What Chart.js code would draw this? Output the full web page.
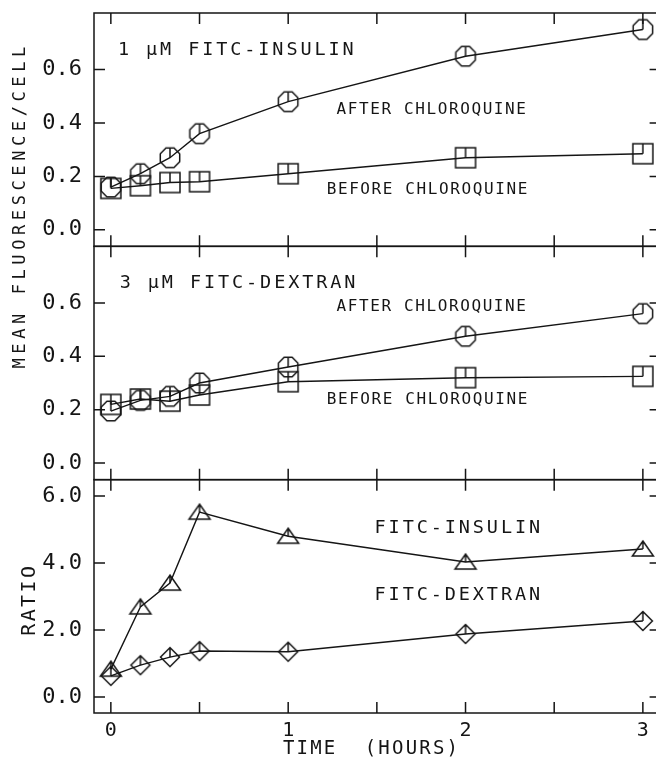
<!DOCTYPE html>
<html lang="en">
<head>
<meta charset="UTF-8">
<title>FITC uptake and chloroquine</title>
<script src="https://cdn.jsdelivr.net/npm/chart.js"></script>
<style>
  html, body { margin: 0; padding: 0; background: #fff; overflow: hidden; }
  canvas { display: block; }
</style>
</head>
<body>
<!-- wider than the window: the right frame of the plot runs just past the edge -->
<canvas id="uptake" width="672" height="758"></canvas>
<script>
// sampling times in hours (0, 10, 20, 30 min, 1, 2, 3 h)
const hours = [0, 1/6, 1/3, 0.5, 1, 2, 3];

// 1 uM FITC-insulin, mean fluorescence per cell
const insulinAfter  = [0.16, 0.21, 0.27, 0.36, 0.48, 0.65, 0.75];
const insulinBefore = [0.155, 0.165, 0.177, 0.18, 0.21, 0.27, 0.285];

// 3 uM FITC-dextran
const dextranAfter  = [0.195, 0.235, 0.25, 0.30, 0.36, 0.475, 0.56];
const dextranBefore = [0.22, 0.24, 0.232, 0.255, 0.305, 0.32, 0.325];

// after / before ratio
const ratioInsulin = [0.83, 2.69, 3.40, 5.52, 4.80, 4.03, 4.42];
const ratioDextran = [0.63, 0.95, 1.19, 1.37, 1.35, 1.88, 2.27];

const timeTicks  = [0, 0.5, 1, 1.5, 2, 2.5, 3];
const fluorTicks = [0, 0.1, 0.2, 0.3, 0.4, 0.5, 0.6, 0.7];
const ratioTicks = [0, 1, 2, 3, 4, 5, 6];

const INK = '#151515';
const MONO = "'DejaVu Sans Mono', 'Liberation Mono', monospace";
const TICK = 11;

// plotter style symbols: open outline plus a stroke from the top to the centre
function marker(shape) {
  const c = document.createElement('canvas');
  c.width = c.height = 26;
  const g = c.getContext('2d');
  const m = 13;
  let top;
  g.strokeStyle = INK;
  g.lineWidth = 1.5;
  g.beginPath();
  if (shape === 'circle') {
    const r = 10.5;
    for (let i = 0; i < 8; i++) {
      const a = Math.PI / 8 + i * Math.PI / 4;
      const px = m + r * Math.cos(a), py = m + r * Math.sin(a);
      if (i) g.lineTo(px, py); else g.moveTo(px, py);
    }
    g.closePath();
    top = m - r * Math.cos(Math.PI / 8);
  } else if (shape === 'square') {
    g.rect(m - 10, m - 10, 20, 20);
    top = m - 10;
  } else if (shape === 'triangle') {
    g.moveTo(m, m - 8);
    g.lineTo(m + 10.5, m + 7);
    g.lineTo(m - 10.5, m + 7);
    g.closePath();
    top = m - 8;
  } else {
    g.moveTo(m, m - 9.5);
    g.lineTo(m + 9.5, m);
    g.lineTo(m, m + 9.5);
    g.lineTo(m - 9.5, m);
    g.closePath();
    top = m - 9.5;
  }
  g.moveTo(m, top);
  g.lineTo(m, m);
  g.stroke();
  return c;
}

function series(label, values, axis, shape) {
  return {
    label,
    data: hours.map((h, i) => ({ x: h, y: values[i] })),
    yAxisID: axis,
    borderColor: INK,
    borderWidth: 1.4,
    backgroundColor: 'transparent',
    pointStyle: marker(shape),
    pointRadius: 10,
    tension: 0,
    fill: false
  };
}

// fixed gutter sizes, no extra label padding around the plot
function fixLeft(s) {
  s.width = 94;
  s.paddingTop = s.paddingBottom = 0;
}

function fixBottom(s) {
  s.height = 45;
  s.paddingLeft = s.paddingRight = 0;
}

function fluorAxis() {
  return {
    type: 'linear',
    position: 'left',
    stack: 'panels',
    stackWeight: 1,
    min: -0.062,
    max: 0.812,
    afterBuildTicks: s => { s.ticks = fluorTicks.map(v => ({ value: v })); },
    afterFit: fixLeft,
    ticks: {
      padding: 12,
      color: INK,
      font: { family: MONO, size: 22 },
      callback: v => (Math.round(v * 10) % 2 === 0 && v < 0.65) ? v.toFixed(1) : ''
    },
    grid: { display: false, drawTicks: false },
    border: { display: false }
  };
}

// frames, inward ticks on all four sides of each panel
const panelFrames = {
  id: 'panelFrames',
  beforeDatasetsDraw(chart) {
    const { ctx, chartArea: { left, right }, scales } = chart;
    const x = scales.x;
    ctx.save();
    ctx.strokeStyle = INK;
    ctx.lineWidth = 1.5;
    for (const id of ['yIns', 'yDex', 'yRat']) {
      const y = scales[id];
      ctx.strokeRect(left, y.top, right - left, y.bottom - y.top);
      ctx.beginPath();
      y.ticks.forEach(t => {
        const py = y.getPixelForValue(t.value);
        ctx.moveTo(left, py); ctx.lineTo(left + TICK, py);
        ctx.moveTo(right - TICK, py); ctx.lineTo(right, py);
      });
      x.ticks.forEach(t => {
        const px = x.getPixelForValue(t.value);
        ctx.moveTo(px, y.top); ctx.lineTo(px, y.top + TICK);
        ctx.moveTo(px, y.bottom - TICK); ctx.lineTo(px, y.bottom);
      });
      ctx.stroke();
    }
    ctx.restore();
  }
};

// in-panel labels, placed in data units of each panel
const notes = [
  { text: '1 \u00b5M FITC-INSULIN', axis: 'yIns', x: 0.04, y: 0.674, size: 18.5, spacing: 2.9 },
  { text: 'AFTER CHLOROQUINE', axis: 'yIns', x: 1.273, y: 0.449, size: 16, spacing: 1.6 },
  { text: 'BEFORE CHLOROQUINE', axis: 'yIns', x: 1.217, y: 0.150, size: 16, spacing: 1.6 },
  { text: '3 \u00b5M FITC-DEXTRAN', axis: 'yDex', x: 0.05, y: 0.674, size: 18.5, spacing: 2.9 },
  { text: 'AFTER CHLOROQUINE', axis: 'yDex', x: 1.273, y: 0.584, size: 16, spacing: 1.6 },
  { text: 'BEFORE CHLOROQUINE', axis: 'yDex', x: 1.217, y: 0.236, size: 16, spacing: 1.6 },
  { text: 'FITC-INSULIN', axis: 'yRat', x: 1.487, y: 5.04, size: 18.5, spacing: 2.9 },
  { text: 'FITC-DEXTRAN', axis: 'yRat', x: 1.487, y: 3.04, size: 18.5, spacing: 2.9 }
];

const panelText = {
  id: 'panelText',
  afterDraw(chart) {
    const { ctx, scales } = chart;
    const x = scales.x;
    ctx.save();
    ctx.fillStyle = INK;
    ctx.textBaseline = 'middle';
    ctx.textAlign = 'left';
    notes.forEach(n => {
      ctx.font = n.size + 'px ' + MONO;
      ctx.letterSpacing = n.spacing + 'px';
      ctx.fillText(n.text, x.getPixelForValue(n.x), scales[n.axis].getPixelForValue(n.y));
    });

    // hour labels under the bottom panel
    ctx.textAlign = 'center';
    ctx.textBaseline = 'alphabetic';
    ctx.font = '20px ' + MONO;
    ctx.letterSpacing = '0px';
    x.ticks.forEach(t => {
      if (Number.isInteger(t.value)) ctx.fillText(String(t.value), x.getPixelForValue(t.value), x.top + 23);
    });

    // axis titles
    ctx.textBaseline = 'middle';
    ctx.font = '17px ' + MONO;
    ctx.letterSpacing = '4.6px';
    ctx.save();
    ctx.translate(21, scales.yDex.top - 41);
    ctx.rotate(-Math.PI / 2);
    ctx.fillText('MEAN FLUORESCENCE/CELL', 0, 0);
    ctx.restore();

    ctx.font = '20px ' + MONO;
    ctx.letterSpacing = '2.4px';
    ctx.save();
    ctx.translate(30, scales.yRat.top + 120);
    ctx.rotate(-Math.PI / 2);
    ctx.fillText('RATIO', 0, 0);
    ctx.restore();

    ctx.font = '19px ' + MONO;
    ctx.letterSpacing = '2.2px';
    ctx.fillText('TIME  (HOURS)', x.getPixelForValue(1.47), 749);
    ctx.restore();
  }
};

new Chart(document.getElementById('uptake'), {
  type: 'line',
  data: {
    datasets: [
      series('After chloroquine', insulinAfter, 'yIns', 'circle'),
      series('Before chloroquine', insulinBefore, 'yIns', 'square'),
      series('After chloroquine', dextranAfter, 'yDex', 'circle'),
      series('Before chloroquine', dextranBefore, 'yDex', 'square'),
      series('FITC-insulin', ratioInsulin, 'yRat', 'triangle'),
      series('FITC-dextran', ratioDextran, 'yRat', 'diamond')
    ]
  },
  options: {
    responsive: false,
    animation: false,
    devicePixelRatio: 1,
    layout: { padding: { top: 13, right: 1, left: 0, bottom: 0 } },
    plugins: { legend: { display: false }, tooltip: { enabled: false } },
    scales: {
      x: {
        type: 'linear',
        min: -0.095,
        max: 3.1,
        afterBuildTicks: s => { s.ticks = timeTicks.map(v => ({ value: v })); },
        afterFit: fixBottom,
        ticks: { display: false },
        grid: { display: false, drawTicks: false },
        border: { display: false }
      },
      yRat: {
        type: 'linear',
        position: 'left',
        stack: 'panels',
        stackWeight: 1,
        min: -0.48,
        max: 6.49,
        afterBuildTicks: s => { s.ticks = ratioTicks.map(v => ({ value: v })); },
        afterFit: fixLeft,
        ticks: {
          padding: 12,
          color: INK,
          font: { family: MONO, size: 22 },
          callback: v => v % 2 === 0 ? v.toFixed(1) : ''
        },
        grid: { display: false, drawTicks: false },
        border: { display: false }
      },
      yDex: fluorAxis(),
      yIns: fluorAxis()
    }
  },
  plugins: [panelFrames, panelText]
});
</script>
</body>
</html>
